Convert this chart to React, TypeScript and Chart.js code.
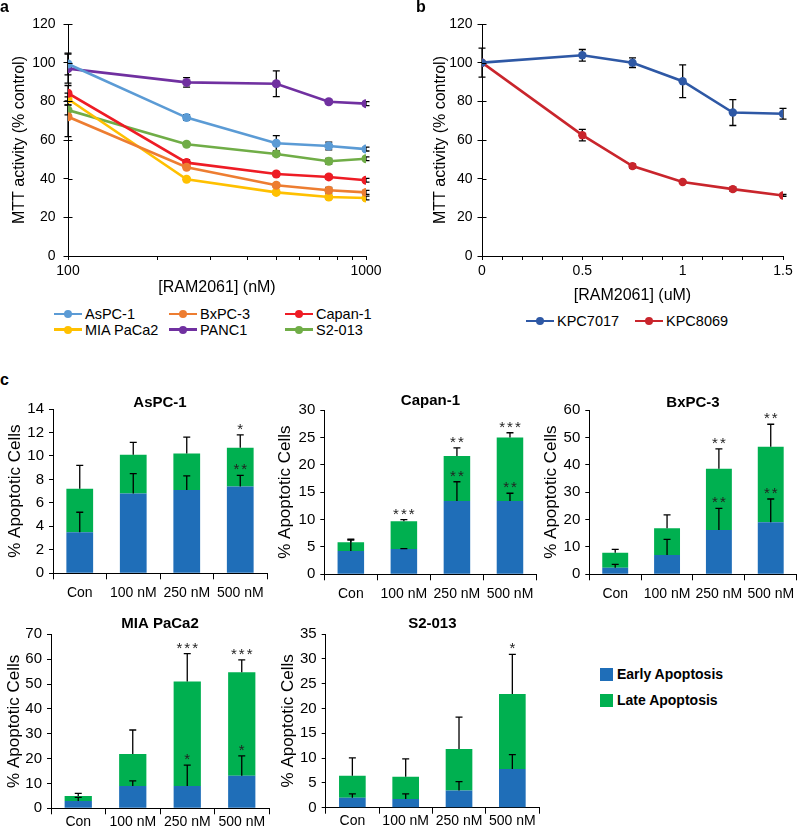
import React, { useEffect, useRef } from 'react';
import { Chart, registerables } from 'chart.js';
Chart.register(...registerables);

const FONT = "'Liberation Sans', Arial, Helvetica, sans-serif";
Chart.defaults.font.family = FONT;
Chart.defaults.color = '#000';

// ---------- Panel a data ----------
const concentrationsNM = [100, 250, 500, 750, 1000];
const logTicksNM = [100, 200, 300, 400, 500, 600, 700, 800, 900, 1000];
const lineNamesA = ['AsPC-1', 'BxPC-3', 'Capan-1', 'MIA PaCa2', 'PANC1', 'S2-013'];
const lineColorsA = ['#5B9BD5', '#ED7D31', '#EE1C25', '#FFC000', '#7030A0', '#70AD47'];
const aspc1Mtt = [99.3, 71.6, 58.3, 56.9, 55.3];
const aspc1MttErr = [5.6, 1.5, 4, 2, 1];
const bxpc3Mtt = [72, 45.9, 36.6, 34, 32.9];
const bxpc3MttErr = [10.3, 1, 1, 1.5, 1];
const capan1Mtt = [84.2, 48.3, 42.4, 40.9, 39.2];
const capan1MttErr = [4, 1.5, 1, 1, 1];
const miaMtt = [81.2, 39.7, 32.9, 30.5, 30];
const miaMttErr = [3, 1, 1, 1, 1];
const panc1Mtt = [96.9, 89.8, 89.1, 79.8, 78.8];
const panc1MttErr = [7.5, 2.5, 6.7, 1, 1];
const s2013Mtt = [75.5, 57.8, 52.8, 49, 50.3];
const s2013MttErr = [2.5, 1, 1, 1.5, 1];
const seriesA = [aspc1Mtt, bxpc3Mtt, capan1Mtt, miaMtt, panc1Mtt, s2013Mtt];
const errorsA = [aspc1MttErr, bxpc3MttErr, capan1MttErr, miaMttErr, panc1MttErr, s2013MttErr];

// ---------- Panel b data ----------
const concentrationsUM = [0, 0.5, 0.75, 1, 1.25, 1.5];
const lineNamesB = ['KPC7017', 'KPC8069'];
const lineColorsB = ['#2E58A5', '#C9252C'];
const kpc7017Mtt = [100, 103.8, 100, 90.4, 74.2, 73.6];
const kpc7017MttErr = [7.5, 3, 2.5, 8.5, 6.7, 2.8];
const kpc8069Mtt = [100, 62.5, 46.5, 38.3, 34.6, 31.3];
const kpc8069MttErr = [0, 3, 1, 0.5, 1, 0.5];

// ---------- Panel c data ----------
const doseLabels = ['Con', '100 nM', '250 nM', '500 nM'];
const phaseNames = ['Early Apoptosis', 'Late Apoptosis'];
const phaseColors = ['#1F6EB8', '#00B050'];

const aspc1Early = [3.5, 6.8, 7.1, 7.4];
const aspc1Late = [3.7, 3.3, 3.1, 3.3];
const aspc1EarlyErr = [1.7, 1.7, 1.2, 0.95];
const aspc1LateErr = [2.0, 1.05, 1.4, 1.1];
const aspc1EarlyStars = ['', '', '', '**'];
const aspc1LateStars = ['', '', '', '*'];

const capan1Early = [4.25, 4.6, 13.4, 13.4];
const capan1Late = [1.6, 5.1, 8.2, 11.6];
const capan1EarlyErr = [2.0, 0.1, 3.5, 1.4];
const capan1LateErr = [0.55, 0.3, 1.5, 0.85];
const capan1EarlyStars = ['', '', '**', '**'];
const capan1LateStars = ['', '***', '**', '***'];

const bxpc3Early = [2.4, 7.05, 16.2, 19.0];
const bxpc3Late = [5.5, 9.75, 22.3, 27.6];
const bxpc3EarlyErr = [1.2, 5.7, 7.9, 8.5];
const bxpc3LateErr = [1.2, 4.9, 7.3, 8.2];
const bxpc3EarlyStars = ['', '', '**', '**'];
const bxpc3LateStars = ['', '', '**', '**'];

const miaEarly = [2.9, 9.0, 9.0, 13.1];
const miaLate = [2.0, 12.8, 42.0, 41.6];
const miaEarlyErr = [1.5, 2.0, 8.4, 8.0];
const miaLateErr = [1.1, 9.7, 11.2, 5.0];
const miaEarlyStars = ['', '', '*', '*'];
const miaLateStars = ['', '', '***', '***'];

const s2013Early = [2.0, 1.75, 3.45, 7.8];
const s2013Late = [4.45, 4.5, 8.4, 15.1];
const s2013EarlyErr = [0.8, 1.05, 1.8, 2.9];
const s2013LateErr = [3.6, 3.6, 6.4, 8.0];
const s2013EarlyStars = ['', '', '', ''];
const s2013LateStars = ['', '', '', '*'];

const barTitles = ['AsPC-1', 'Capan-1', 'BxPC-3', 'MIA PaCa2', 'S2-013'];
const barYMax = [14, 30, 60, 70, 35];
const barYStep = [2, 5, 10, 10, 5];

// ---------- plugins ----------
function drawErrorBars(chart: any) {
  const ctx = chart.ctx;
  const ys = chart.scales.y;
  chart.data.datasets.forEach((ds: any, di: number) => {
    if (!ds.errors) return;
    const meta = chart.getDatasetMeta(di);
    const upOnly = !!ds.errorUpOnly;
    const cap = ds.errorCap ?? 4;
    meta.data.forEach((el: any, i: number) => {
      const e = ds.errors[i];
      if (!e) return;
      const ePx = ys.getPixelForValue(0) - ys.getPixelForValue(e);
      const x = el.x;
      const y = el.y;
      const top = y - ePx;
      const bot = upOnly ? y : y + ePx;
      ctx.save();
      ctx.strokeStyle = '#000';
      ctx.lineWidth = 1.3;
      ctx.beginPath();
      ctx.moveTo(x, top);
      ctx.lineTo(x, bot);
      ctx.moveTo(x - cap, top);
      ctx.lineTo(x + cap, top);
      if (!upOnly) {
        ctx.moveTo(x - cap, bot);
        ctx.lineTo(x + cap, bot);
      }
      ctx.stroke();
      ctx.restore();
    });
  });
}

const errorBarsPlugin = {
  id: 'errorBars',
  beforeDatasetsDraw(chart: any) {
    if (chart.config.type === 'line') drawErrorBars(chart);
  },
  afterDatasetsDraw(chart: any) {
    if (chart.config.type === 'bar') drawErrorBars(chart);
  },
};

const starsPlugin = {
  id: 'stars',
  afterDatasetsDraw(chart: any) {
    const ctx = chart.ctx;
    const ys = chart.scales.y;
    chart.data.datasets.forEach((ds: any, di: number) => {
      if (!ds.stars) return;
      const meta = chart.getDatasetMeta(di);
      meta.data.forEach((el: any, i: number) => {
        const s = ds.stars[i];
        if (!s) return;
        const e = ds.errors ? ds.errors[i] || 0 : 0;
        const ePx = ys.getPixelForValue(0) - ys.getPixelForValue(e);
        ctx.save();
        ctx.fillStyle = '#222';
        ctx.font = `15px ${FONT}`;
        ctx.textAlign = 'center';
        ctx.textBaseline = 'alphabetic';
        (ctx as any).letterSpacing = '2px';
        ctx.fillText(s, el.x + 1, el.y - ePx - 1);
        ctx.restore();
      });
    });
  },
};

const innerTicksPlugin = {
  id: 'innerTicks',
  afterDraw(chart: any, _args: any, opts: any) {
    if (!opts || !opts.length) return;
    const ys = chart.scales.y;
    const ctx = chart.ctx;
    ctx.save();
    ctx.strokeStyle = '#000';
    ctx.lineWidth = 1;
    ys.ticks.forEach((_t: any, i: number) => {
      const py = Math.round(ys.getPixelForTick(i)) + 0.5;
      ctx.beginPath();
      ctx.moveTo(chart.chartArea.left, py);
      ctx.lineTo(chart.chartArea.left + opts.length, py);
      ctx.stroke();
    });
    ctx.restore();
  },
};

// ---------- layout helpers ----------
type Box = { left: number; top: number; width: number; height: number };
type Area = { left: number; right: number; top: number; bottom: number };

function ChartBox({ box, make }: { box: Box; make: (c: HTMLCanvasElement) => Chart }) {
  const ref = useRef<HTMLCanvasElement>(null);
  useEffect(() => {
    const c = make(ref.current as HTMLCanvasElement);
    return () => c.destroy();
  }, []);
  return (
    <canvas
      ref={ref}
      width={box.width}
      height={box.height}
      style={{ position: 'absolute', left: box.left, top: box.top, width: box.width, height: box.height }}
    />
  );
}

const axisGrid = (tickLength: number, offset = false) => ({
  display: true,
  drawOnChartArea: false,
  drawTicks: true,
  tickLength,
  color: '#000',
  lineWidth: 1,
  offset,
});

function makeLineChart(
  canvas: HTMLCanvasElement,
  box: Box,
  area: Area,
  cfg: {
    xScale: any;
    names: string[];
    colors: string[];
    xs: number[];
    series: number[][];
    errors: number[][];
    xTitle: string;
    xTitleY: number;
    yTitleX: number;
    yLabelPad: number;
    pointRadius: number;
  }
) {
  const yW = area.left - box.left;
  const xH = box.top + box.height - area.bottom;
  return new Chart(canvas, {
    type: 'line',
    data: {
      datasets: cfg.series.map((vals, k) => ({
        label: cfg.names[k],
        data: cfg.xs.map((x, i) => ({ x, y: vals[i] })),
        borderColor: cfg.colors[k],
        backgroundColor: cfg.colors[k],
        pointBackgroundColor: cfg.colors[k],
        pointBorderColor: cfg.colors[k],
        borderWidth: 2.6,
        pointRadius: cfg.pointRadius,
        pointBorderWidth: 0,
        tension: 0,
        errors: cfg.errors[k],
        errorCap: 3.5,
      })) as any,
    },
    options: {
      responsive: false,
      animation: false,
      events: [],
      layout: { padding: { top: area.top - box.top, left: 0, right: box.left + box.width - area.right, bottom: 0 } },
      plugins: {
        legend: { display: false },
        tooltip: { enabled: false },
        innerTicks: { length: 4.5 },
      } as any,
      scales: {
        x: {
          ...cfg.xScale,
          grid: axisGrid(4),
          border: { display: true, color: '#000', width: 1 },
          title: {
            display: true,
            text: cfg.xTitle,
            color: '#000',
            font: { size: 16, family: FONT },
            padding: { top: 0, bottom: box.top + box.height - cfg.xTitleY - 9.6 },
          },
          afterFit: (s: any) => {
            s.height = xH;
          },
        },
        y: {
          min: 0,
          max: 120,
          ticks: { stepSize: 20, font: { size: 14, family: FONT }, color: '#000', padding: cfg.yLabelPad },
          grid: axisGrid(4.5),
          border: { display: true, color: '#000', width: 1 },
          title: {
            display: true,
            text: 'MTT activity (% control)',
            color: '#000',
            font: { size: 16, family: FONT },
            padding: { top: cfg.yTitleX - box.left - 9.6, bottom: 0 },
          },
          afterFit: (s: any) => {
            s.width = yW;
          },
        },
      } as any,
    },
    plugins: [errorBarsPlugin, innerTicksPlugin],
  });
}

type BarLayout = { area: Area; titleY: number; yTitleX: number; cl: number; cr: number; cb: number; labelPad: number };

const barLayouts: BarLayout[] = [
  { area: { left: 53, right: 267, top: 409, bottom: 573.3 }, titleY: 402.7, yTitleX: 15, cl: 0, cr: 272, cb: 606, labelPad: 5.5 },
  { area: { left: 324.3, right: 536.5, top: 410, bottom: 574.3 }, titleY: 400.7, yTitleX: 285.7, cl: 268, cr: 540, cb: 606, labelPad: 5.5 },
  { area: { left: 589.3, right: 799.5, top: 410, bottom: 574.3 }, titleY: 403.3, yTitleX: 551, cl: 536, cr: 800, cb: 606, labelPad: 5.5 },
  { area: { left: 51, right: 269, top: 634.3, bottom: 808.3 }, titleY: 624, yTitleX: 14, cl: 0, cr: 272, cb: 831, labelPad: -1 },
  { area: { left: 325.7, right: 539, top: 634, bottom: 807.7 }, titleY: 624, yTitleX: 288.3, cl: 268, cr: 542, cb: 831, labelPad: -1 },
];

const barData = [
  { early: aspc1Early, late: aspc1Late, eErr: aspc1EarlyErr, lErr: aspc1LateErr, eStars: aspc1EarlyStars, lStars: aspc1LateStars },
  { early: capan1Early, late: capan1Late, eErr: capan1EarlyErr, lErr: capan1LateErr, eStars: capan1EarlyStars, lStars: capan1LateStars },
  { early: bxpc3Early, late: bxpc3Late, eErr: bxpc3EarlyErr, lErr: bxpc3LateErr, eStars: bxpc3EarlyStars, lStars: bxpc3LateStars },
  { early: miaEarly, late: miaLate, eErr: miaEarlyErr, lErr: miaLateErr, eStars: miaEarlyStars, lStars: miaLateStars },
  { early: s2013Early, late: s2013Late, eErr: s2013EarlyErr, lErr: s2013LateErr, eStars: s2013EarlyStars, lStars: s2013LateStars },
];

const TITLE_LH = 15;

function barBox(l: BarLayout): Box {
  const top = Math.round(l.titleY - TITLE_LH / 2 - 2);
  return { left: l.cl, top, width: l.cr - l.cl, height: l.cb - top };
}

function makeBarChart(canvas: HTMLCanvasElement, idx: number) {
  const l = barLayouts[idx];
  const d = barData[idx];
  const box = barBox(l);
  const pT = l.titleY - TITLE_LH / 2 - box.top;
  const pB = Math.max(-2, l.area.top - l.titleY - TITLE_LH / 2);
  const yW = l.area.left - box.left;
  const xH = box.top + box.height - l.area.bottom;
  return new Chart(canvas, {
    type: 'bar',
    data: {
      labels: doseLabels,
      datasets: [
        {
          label: phaseNames[0],
          data: d.early,
          backgroundColor: phaseColors[0],
          errors: d.eErr,
          errorUpOnly: true,
          errorCap: 3.5,
          stars: d.eStars,
          barPercentage: 0.5,
          categoryPercentage: 1,
        },
        {
          label: phaseNames[1],
          data: d.late,
          backgroundColor: phaseColors[1],
          errors: d.lErr,
          errorUpOnly: true,
          errorCap: 3.5,
          stars: d.lStars,
          barPercentage: 0.5,
          categoryPercentage: 1,
        },
      ] as any,
    },
    options: {
      responsive: false,
      animation: false,
      events: [],
      layout: { padding: { top: 0, left: 0, right: box.left + box.width - l.area.right, bottom: 0 } },
      plugins: {
        legend: { display: false },
        tooltip: { enabled: false },
        title: {
          display: true,
          text: barTitles[idx],
          fullSize: false,
          color: '#000',
          font: { size: 15, weight: 'bold', family: FONT, lineHeight: 1 },
          padding: { top: pT, bottom: pB },
        },
      } as any,
      scales: {
        x: {
          stacked: true,
          grid: axisGrid(6, true),
          border: { display: true, color: '#000', width: 1 },
          ticks: { font: { size: 14, family: FONT }, color: '#000', padding: l.labelPad, maxRotation: 0, autoSkip: false },
          afterFit: (s: any) => {
            s.height = xH;
          },
        },
        y: {
          stacked: true,
          min: 0,
          max: barYMax[idx],
          ticks: { stepSize: barYStep[idx], font: { size: 15, family: FONT }, color: '#000', padding: 5 },
          grid: axisGrid(4),
          border: { display: true, color: '#000', width: 1 },
          title: {
            display: true,
            text: '% Apoptotic Cells',
            color: '#000',
            font: { size: 17, family: FONT },
            padding: { top: l.yTitleX - box.left - 10.2, bottom: 0 },
          },
          afterFit: (s: any) => {
            s.width = yW;
          },
        },
      } as any,
    },
    plugins: [errorBarsPlugin, starsPlugin],
  });
}

// ---------- legends ----------
function LineLegendItem({ x, y, color, label }: { x: number; y: number; color: string; label: string }) {
  return (
    <div style={{ position: 'absolute', left: x, top: y - 10, height: 20, display: 'flex', alignItems: 'center', whiteSpace: 'nowrap' }}>
      <div style={{ position: 'relative', width: 28, height: 20 }}>
        <div style={{ position: 'absolute', left: 0, top: 8.7, width: 28, height: 2.6, background: color }} />
        <div style={{ position: 'absolute', left: 10, top: 6, width: 8, height: 8, borderRadius: '50%', background: color }} />
      </div>
      <span style={{ marginLeft: 3, font: `14.5px ${FONT}`, color: '#000', lineHeight: '20px' }}>{label}</span>
    </div>
  );
}

const legendAPos = [
  [54, 314],
  [169, 314],
  [285, 314],
  [54, 329.5],
  [169, 329.5],
  [285, 329.5],
];
const legendBPos = [
  [526, 321],
  [635, 321],
];

const panelA = { box: { left: 0, top: 0, width: 400, height: 300 }, area: { left: 68, right: 366, top: 24, bottom: 256 } };
const panelB = { box: { left: 400, top: 0, width: 400, height: 310 }, area: { left: 482, right: 783, top: 24, bottom: 256 } };

const isHalf = (v: number) => Math.abs(v * 2 - Math.round(v * 2)) < 1e-6;

export default function App() {
  return (
    <div style={{ position: 'absolute', left: 0, top: 0, width: 800, height: 831, background: '#fff', overflow: 'hidden', fontFamily: FONT }}>
      <ChartBox
        box={panelA.box}
        make={(c) =>
          makeLineChart(c, panelA.box, panelA.area, {
            xScale: {
              type: 'logarithmic',
              min: 100,
              max: 1000,
              afterBuildTicks: (s: any) => {
                s.ticks = logTicksNM.map((v) => ({ value: v, major: v === 100 || v === 1000 }));
              },
              ticks: {
                autoSkip: false,
                maxRotation: 0,
                padding: 3,
                color: '#000',
                font: { size: 14, family: FONT },
                callback: (v: any) => (v === 100 || v === 1000 ? String(v) : ''),
              },
            },
            names: lineNamesA,
            colors: lineColorsA,
            xs: concentrationsNM,
            series: seriesA,
            errors: errorsA,
            xTitle: '[RAM2061] (nM)',
            xTitleY: 287.5,
            yTitleX: 20,
            yLabelPad: 8,
            pointRadius: 4.5,
          })
        }
      />
      <ChartBox
        box={panelB.box}
        make={(c) =>
          makeLineChart(c, panelB.box, panelB.area, {
            xScale: {
              type: 'linear',
              min: 0,
              max: 1.5,
              ticks: {
                stepSize: 0.1,
                autoSkip: false,
                maxRotation: 0,
                padding: 3,
                color: '#000',
                font: { size: 14, family: FONT },
                callback: (v: any) => (isHalf(v) ? String(Math.round(v * 2) / 2) : ''),
              },
            },
            names: lineNamesB,
            colors: lineColorsB,
            xs: concentrationsUM,
            series: [kpc7017Mtt, kpc8069Mtt],
            errors: [kpc7017MttErr, kpc8069MttErr],
            xTitle: '[RAM2061] (uM)',
            xTitleY: 296,
            yTitleX: 441,
            yLabelPad: 5,
            pointRadius: 4.2,
          })
        }
      />
      {barLayouts.map((l, i) => (
        <ChartBox key={i} box={barBox(l)} make={(c) => makeBarChart(c, i)} />
      ))}

      {lineNamesA.map((n, i) => (
        <LineLegendItem key={n} x={legendAPos[i][0]} y={legendAPos[i][1]} color={lineColorsA[i]} label={n} />
      ))}
      {lineNamesB.map((n, i) => (
        <LineLegendItem key={n} x={legendBPos[i][0]} y={legendBPos[i][1]} color={lineColorsB[i]} label={n} />
      ))}

      {phaseNames.map((n, i) => (
        <div key={n} style={{ position: 'absolute', left: 600, top: 667 + i * 26, height: 15, display: 'flex', alignItems: 'center', whiteSpace: 'nowrap' }}>
          <div style={{ width: 13, height: 13, background: phaseColors[i] }} />
          <span style={{ marginLeft: 4, font: `bold 14px ${FONT}`, color: '#000', lineHeight: '15px' }}>{n}</span>
        </div>
      ))}

      <div style={{ position: 'absolute', left: 0, top: -1.5, font: `bold 16px ${FONT}`, lineHeight: '16px' }}>a</div>
      <div style={{ position: 'absolute', left: 416, top: -1.5, font: `bold 16px ${FONT}`, lineHeight: '16px' }}>b</div>
      <div style={{ position: 'absolute', left: 0, top: 371.5, font: `bold 16px ${FONT}`, lineHeight: '16px' }}>c</div>
    </div>
  );
}
